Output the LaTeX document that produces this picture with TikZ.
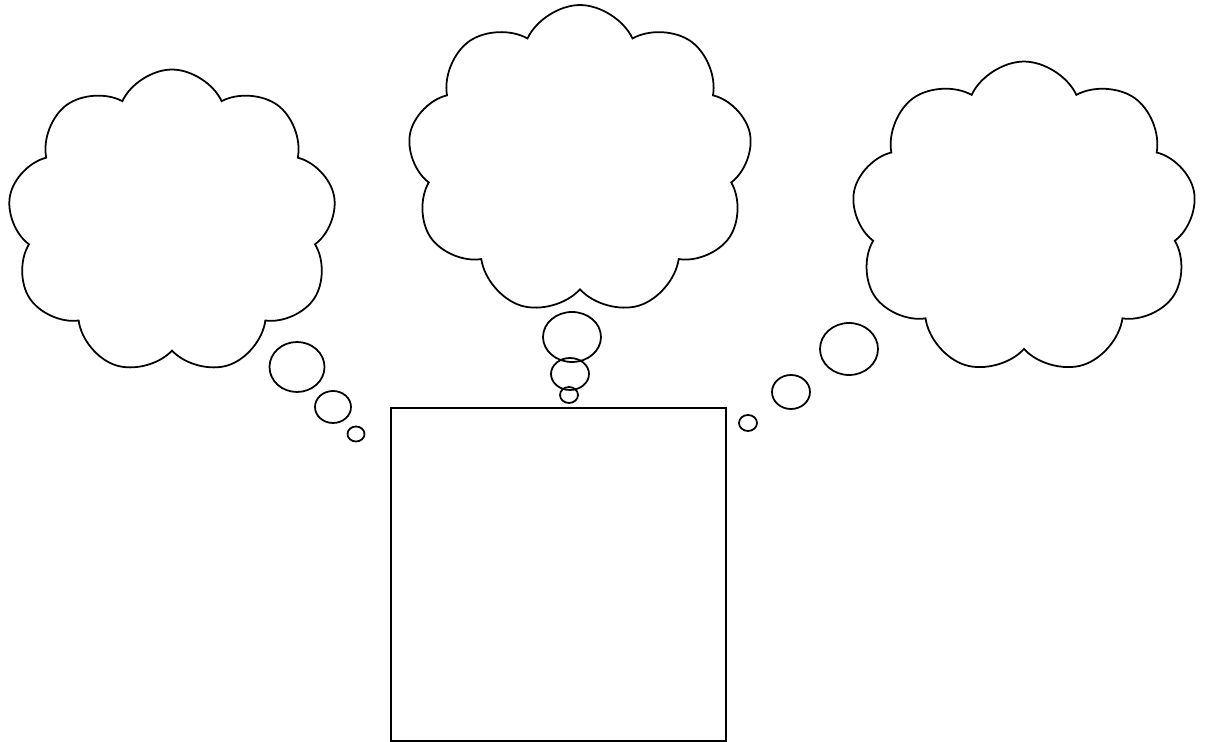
\documentclass[tikz,border=0pt]{standalone}
\usetikzlibrary{shapes.symbols,shapes.geometric}
\tikzset{
  thought/.style={cloud, draw, cloud puffs=9, cloud puff arc=130, inner sep=0pt},
  bubble/.style={ellipse, draw, inner sep=0pt},
}
\begin{document}
\begin{tikzpicture}[x=0.02cm,y=-0.02cm,line width=1pt]
  \useasboundingbox (0,0) rectangle (1205,742);
  % the box
  \node[draw, anchor=north west, minimum width=6.7cm, minimum height=6.66cm] (box) at (390,407) {};
  % left thought
  \node[thought, minimum width=6.58cm, minimum height=6.1cm] (left) at (172,222) {};
  \node[bubble, minimum width=1.1cm, minimum height=1cm] (left1) at (297,367) {};
  \node[bubble, minimum width=0.72cm, minimum height=0.64cm] (left2) at (333,407) {};
  \node[bubble, minimum width=0.34cm, minimum height=0.3cm] (left3) at (356,434) {};
  % middle thought
  \node[thought, minimum width=6.9cm, minimum height=6.2cm] (mid) at (580,160) {};
  \node[bubble, minimum width=1.16cm, minimum height=1cm] (mid1) at (572,337) {};
  \node[bubble, minimum width=0.76cm, minimum height=0.64cm] (mid2) at (570,374) {};
  \node[bubble, minimum width=0.36cm, minimum height=0.32cm] (mid3) at (569,395) {};
  % right thought
  \node[thought, minimum width=6.9cm, minimum height=6.26cm] (right) at (1024,218) {};
  \node[bubble, minimum width=1.16cm, minimum height=1.04cm] (right1) at (849,349) {};
  \node[bubble, minimum width=0.76cm, minimum height=0.68cm] (right2) at (791,392) {};
  \node[bubble, minimum width=0.36cm, minimum height=0.32cm] (right3) at (748,423) {};
\end{tikzpicture}
\end{document}
